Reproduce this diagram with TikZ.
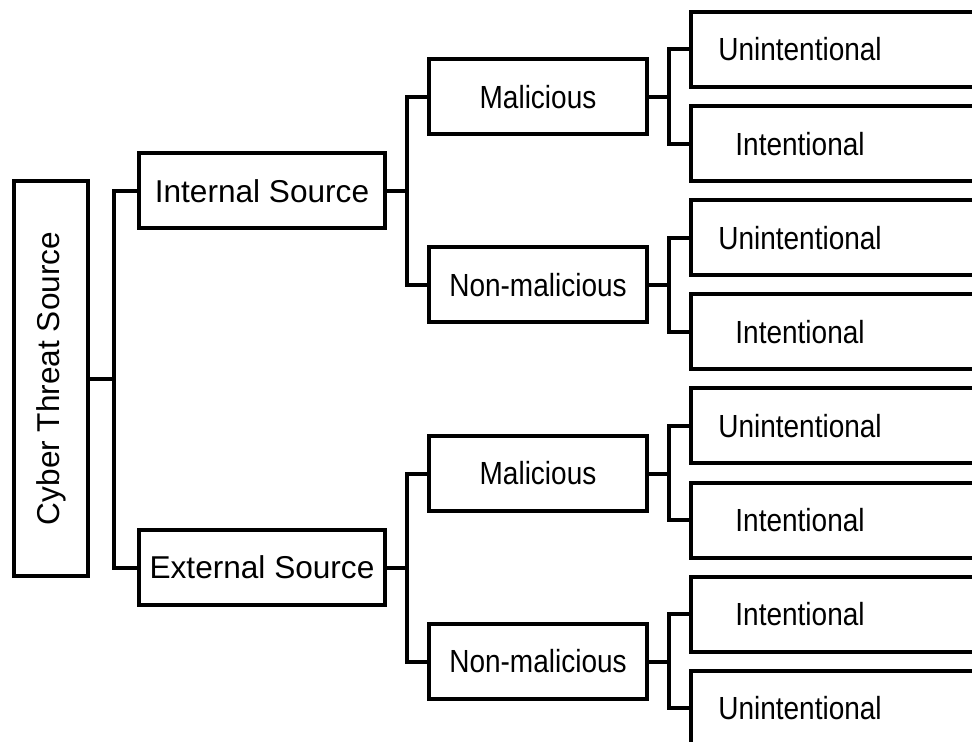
\documentclass[tikz,border=0pt]{standalone}
\usepackage{fontspec}
\setmainfont{Liberation Sans}
\newfontfamily\narrowfont[FakeStretch=0.875]{Liberation Sans}
\usetikzlibrary{calc}

\begin{document}
\begin{tikzpicture}[x=0.5pt, y=-0.5pt,
    box/.style={draw, line width=2pt, minimum height=37.5pt, inner sep=0pt, font=\narrowfont\fontsize{16}{18}\selectfont},
    srcbox/.style={box, minimum width=123pt, font=\fontsize{15.8}{19}\selectfont},
    catbox/.style={box, minimum width=109pt},
    leaf/.style={box, minimum width=150pt, text width=150pt, align=left},
    conn/.style={line width=2pt}]
    \useasboundingbox (0,0) rectangle (972,742);
    % Root (rotated)
    \node[box, rotate=90, minimum width=197pt, minimum height=37pt, font=\fontsize{15.8}{19}\selectfont] (root) at (51,378.5) {Cyber Threat Source};
    % Source level
    \node[srcbox] (int) at (262,190.75) {Internal Source};
    \node[srcbox] (ext) at (262,567.5) {External Source};
    % Intent level
    \node[catbox] (mal1) at (538,96.75) {Malicious};
    \node[catbox] (non1) at (538,285) {Non-malicious};
    \node[catbox] (mal2) at (538,473.5) {Malicious};
    \node[catbox] (non2) at (538,661.5) {Non-malicious};
    % Leaves (run past the right edge)
    \foreach \lab [count=\i from 0] in {Unintentional,Intentional,Unintentional,Intentional,Unintentional,Intentional,Intentional,Unintentional}
        \node[leaf] (leaf\i) at (841,49.5+94.1*\i) {\makebox[109pt]{\lab}};
    % Connectors
    \draw[conn] (root.south) -| ($(root.south)!.5!(int.west)$) |- (int.west);
    \draw[conn] (root.south) -| ($(root.south)!.5!(ext.west)$) |- (ext.west);
    \foreach \a/\b in {int/mal1, int/non1, ext/mal2, ext/non2, mal1/leaf0, mal1/leaf1, non1/leaf2, non1/leaf3, mal2/leaf4, mal2/leaf5, non2/leaf6, non2/leaf7}
        \draw[conn] (\a.east) -| ($(\a.east)!.5!(\b.west)$) |- (\b.west);
\end{tikzpicture}
\end{document}
